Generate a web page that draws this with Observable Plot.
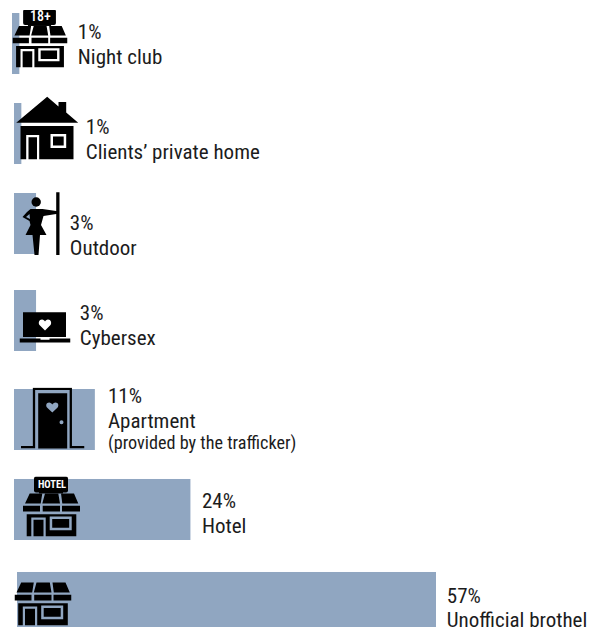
<!DOCTYPE html>
<html><head><meta charset="utf-8">
<style>html,body{margin:0;padding:0;background:#fff}svg{display:block}
text{font-stretch:75%;font-variation-settings:"wdth" 75}</style>
<script src="https://cdn.jsdelivr.net/npm/d3@7"></script>
<script src="https://cdn.jsdelivr.net/npm/@observablehq/plot@0.6"></script>
</head><body><div id="chart"></div>
<script>
const categories = ["Night club","Clients’ private home","Outdoor","Cybersex","Apartment","Hotel","Unofficial brothel"];
const values = [1,1,3,3,11,24,57];
const notes = ["","","","","(provided by the trafficker)","",""];
const signs = ["18+","","","","","HOTEL",""];

// layout nudges, one per row, in pixels
const barDx = [-2,0,0,0,0,0,3];
const barDy = [0,-3,-6,-2,4,1,1];
const labelGap = [56,64,33.3,43.3,12.6,11,13.3];
const labelDy = [-0.5,4.5,10.5,3.5,-12.5,2.5,4];
const iconCx = [25.5,33,26,30.5,38,37,28.5];
const iconCy = [-5.5,-6,0,6.5,-1.5,-3.5,0];

const C = "#90a6c1", INK = "#1c1c1c";
const shop = `M6.7 2H19.3L17.7 12H2ZM22 2H35.3L37 12H19.3ZM38 2H51L55.3 12H39.3Z
M0 14.3H17V20H0ZM19.7 14.3H37V20H19.7ZM39 14.3H57V20H39Z
M3.7 22.7H53.3V45H3.7ZM8.3 26H22.7V45H8.3ZM10.5 28.3H20.5V45H10.5ZM26.7 25H48.7V38.7H26.7ZM29.2 27.5H46.2V36.2H29.2Z`;
const sign = `<rect x="11" y="-15" width="34" height="16" rx="2"/><rect x="16" y="0" width="24" height="2"/>`;
const svg = (w,h,vb,body) => "data:image/svg+xml;utf8," + encodeURIComponent(
  `<svg xmlns="http://www.w3.org/2000/svg" width="${w}" height="${h}" viewBox="${vb}">${body}</svg>`);
const p = d => `<path fill-rule="evenodd" d="${d}"/>`;
const icons = [
  {w:55,h:58,src:svg(57,60,"0 -15 57 60",sign+p(shop))},
  {w:64,h:64,src:svg(64,64,"0 0 64 64",p(`M31.7 .7L43 10.5V6H50.7V16.5L62.7 26.7H.7Z
    M5 30H58V63.3H5ZM10.7 39H23.7V63.3H10.7ZM13 41.3H21.5V63.3H13ZM35 38H50.7V52H35ZM37.5 40.5H48.2V49.5H37.5Z`))},
  {w:40,h:64,src:svg(40,64,"0 0 40 64",`<circle cx="15.7" cy="10" r="4.7"/>`+p(`M35.7 .3H39V63H35.7Z
    M10 17L22 17L35.7 19V22L23 24L20.5 33L26 43H19.5L18 63H14L12 43H5L10 33L9 29L2 25L6.5 20Z
    M5.5 25L9 22L9.5 27Z`))},
  {w:51,h:32,src:svg(51,32,"0 0 51 32",p(`M3.5 .7H46.5V25.5H3.5Z
    M25.5 19L20 13.5C18.5 11.5 19.5 8 22.5 8C24 8 25 9 25.5 10C26 9 27 8 28.5 8C31.5 8 32.5 11.5 31 13.5Z
    M0 27H21V28.2H30V27H51V31H0Z`))},
  {w:64,h:62,src:svg(64,62,"0 0 64 62",
    `<path d="M0 59.7H13.5V1.3H50.3V59.7H64" fill="none" stroke="#000" stroke-width="2.3"/>`+
    p(`M17.7 5.7H46.7V61H17.7Z
    M31.8 25L26.5 20C25 18 25.8 15 28.6 15C30 15 31.2 16 31.8 17C32.4 16 33.6 15 35 15C37.8 15 38.6 18 37.1 20Z
    M39 34.7A2 2 0 1 0 43 34.7A2 2 0 1 0 39 34.7Z`))},
  {w:57,h:60,src:svg(57,60,"0 -15 57 60",sign+p(shop))},
  {w:57,h:45,src:svg(57,45,"0 0 57 45",p(shop))}
];

const rows = categories.map((name,i)=>({name,value:values[i],note:notes[i],sign:signs[i],i}));
const font = {fontFamily:"Roboto, sans-serif"};

const marks = rows.flatMap((r,i)=>{
  const out = [
    Plot.barX([r],{x1:()=>0,x2:"value",y:"name",fill:C,dx:barDx[i],dy:barDy[i]}),
    Plot.image([r],{x:()=>0,y:"name",src:()=>icons[i].src,width:icons[i].w,height:icons[i].h,
      dx:iconCx[i],dy:barDy[i]+iconCy[i]}),
    Plot.text([r],{x:"value",y:"name",text:d=>`${d.value}%\n${d.name}`,textAnchor:"start",lineAnchor:"middle",
      fontSize:21,lineHeight:1.19,fill:INK,...font,dx:labelGap[i],dy:barDy[i]+labelDy[i]})
  ];
  if (r.note) out.push(Plot.text([r],{x:"value",y:"name",text:"note",textAnchor:"start",lineAnchor:"middle",
      fontSize:18.2,fill:INK,...font,dx:labelGap[i],dy:barDy[i]+23}));
  if (r.sign) out.push(Plot.text([r],{x:()=>0,y:"name",text:"sign",textAnchor:"middle",lineAnchor:"middle",
      fontSize:r.sign==="HOTEL"?10.5:14,fontWeight:r.sign==="HOTEL"?700:500,fill:"#fff",...font,
      dx:iconCx[i]+0.5,dy:barDy[i]+iconCy[i]-22}));
  return out;
});

const chart = Plot.plot({
  width:600,height:627,margin:0,
  style:{background:"transparent",overflow:"hidden"},
  x:{domain:[0,57],range:[14,433],axis:null},
  y:{type:"band",domain:categories,range:[13,632],paddingInner:0.344,paddingOuter:0,round:false,axis:null},
  marks
});
document.getElementById("chart").append(chart);
</script></body></html>
